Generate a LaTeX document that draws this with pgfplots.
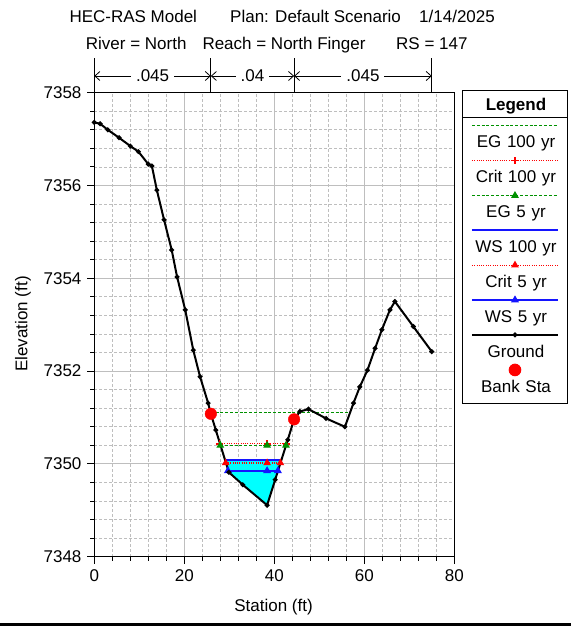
\documentclass[border=0pt]{standalone}
\usepackage{fontspec}
\setmainfont{Liberation Sans}
\usepackage{pgfplots}
\pgfplotsset{compat=1.18}
\usetikzlibrary{arrows.meta}
\definecolor{egreen}{RGB}{0,145,0}
\definecolor{wsblue}{RGB}{20,20,255}
\definecolor{wred}{RGB}{255,0,0}
\definecolor{wcyan}{RGB}{0,255,255}
\definecolor{gridgray}{RGB}{190,190,190}
\newcommand\ls{\rule[-3.5bp]{0pt}{15.5bp}}
\pgfplotsset{
  legline/.style={legend image code/.code={\path (0bp,0bp);\draw[overlay,mark repeat=2,mark phase=2,##1] plot coordinates {(0bp,17.8bp) (43bp,17.8bp) (86bp,17.8bp)};}},
  legmark/.style={legend image code/.code={\path (0bp,0bp);\draw[overlay,##1] plot coordinates {(43bp,17.8bp)};}},
}
\begin{document}
\fontsize{17bp}{20bp}\selectfont
\begin{tikzpicture}[font=\fontsize{17bp}{20bp}\selectfont]
\useasboundingbox (0,0) rectangle (571bp,629bp);
% titles
\node[anchor=base west, inner sep=0pt] at (69.3bp,606.3bp) {HEC-RAS Model};
\node[anchor=base west, inner sep=0pt] at (230bp,606.3bp) {Plan: Default Scenario};
\node[anchor=base west, inner sep=0pt] at (419bp,606.3bp) {1/14/2025};
\node[anchor=base west, inner sep=0pt] at (85.7bp,579bp) {River = North};
\node[anchor=base west, inner sep=0pt] at (202.3bp,579bp) {Reach = North Finger};
\node[anchor=base west, inner sep=0pt] at (396bp,579bp) {RS = 147};
\begin{axis}[
  at={(94.3bp,72.3bp)}, anchor=south west,
  scale only axis, width=360bp, height=464bp,
  xmin=0, xmax=80, ymin=7348, ymax=7358,
  xtick={0,20,40,60,80}, ytick={7348,7350,7352,7354,7356,7358},
  minor x tick num=4, minor y tick num=4,
  grid=both,
  major grid style={gridgray, line width=0.8bp},
  minor grid style={gridgray, line width=0.8bp, dash pattern=on 3bp off 2bp},
  tick align=outside, xtick pos=left, ytick pos=left,
  major tick length=7bp, minor tick length=4bp,
  tick style={black, line width=0.9bp},
  axis line style={black, line width=1.2bp},
  clip=false,
  /pgf/number format/assume math mode=true,
  /pgf/number format/1000 sep={},
  tick label style={font=\fontsize{17bp}{20bp}\selectfont},
  legend style={
    at={(axis description cs:1.0222,1.0058)}, anchor=north west,
    draw=black, line width=1bp, fill=white, outer sep=0pt,
    inner xsep=8.7bp, inner ysep=7.7bp,
    row sep=19.2bp, column sep=0pt,
    font=\fontsize{17bp}{20bp}\selectfont,
    cells={anchor=west},
    nodes={inner sep=0pt, text depth=, text height=, text width=86bp, align=center},
  },
]
\addlegendimage{legend image code/.code={\path (0bp,0bp);\draw[overlay,black,line width=1bp] (-8.7bp,-10bp) -- (94.7bp,-10bp);}}
\addlegendentry{\rule[-6.6bp]{0pt}{18.6bp}\textbf{Legend}}

% water area (WS 100 yr)
\addplot[fill=wcyan, draw=none, forget plot] coordinates {(29.0,7350.08) (29.9,7349.82) (38.4,7349.11) (41.55,7350.08)} -- cycle;

\addplot[color=egreen, draw=egreen, line width=1.1bp, dash pattern=on 3bp off 1.8bp, legline] coordinates {(25.9,7351.10) (57.0,7351.10)};
\addlegendentry{\ls EG 100 yr}
\addplot[color=wred, draw=wred, line width=1.1bp, dash pattern=on 1bp off 1.3bp, mark=+, mark size=3.5bp, mark options={solid, line width=1.2bp}, legline] coordinates {(27.9,7350.43) (38.4,7350.43) (42.8,7350.43)};
\addlegendentry{\ls Crit 100 yr}
\addplot[color=egreen, draw=egreen, line width=1.1bp, dash pattern=on 3bp off 1.8bp, mark=triangle*, mark size=3.4bp, mark options={solid, fill=egreen}, legline] coordinates {(28.0,7350.40) (38.4,7350.40) (42.6,7350.40)};
\addlegendentry{\ls EG 5 yr}
\addplot[color=wsblue, draw=wsblue, line width=1.6bp, legline] coordinates {(29.0,7350.08) (41.55,7350.08)};
\addlegendentry{\ls WS 100 yr}
\addplot[color=wred, draw=wred, line width=1.1bp, dash pattern=on 1bp off 1.3bp, mark=triangle*, mark size=3.4bp, mark options={solid, fill=wred}, legline] coordinates {(29.2,7350.02) (38.4,7350.02) (41.35,7350.02)};
\addlegendentry{\ls Crit 5 yr}
\addplot[color=wsblue, draw=wsblue, line width=1.3bp, mark=triangle*, mark size=3.4bp, mark options={fill=wsblue}, legline] coordinates {(29.7,7349.85) (38.4,7349.85) (40.8,7349.85)};
\addlegendentry{\ls WS 5 yr}
\addplot[color=black, draw=black, line width=2bp, mark=*, mark size=1.3bp, legline] coordinates {
(0,7357.36) (1.3,7357.33) (3.0,7357.20) (5.5,7357.03) (8.0,7356.85) (9.8,7356.73)
(12.0,7356.46) (12.8,7356.42) (13.9,7355.90) (15.5,7355.26) (17.2,7354.61)
(18.4,7354.03) (20.2,7353.32) (22.0,7352.45) (23.5,7351.88) (25.3,7351.31)
(25.9,7351.08) (27.0,7350.73) (29.9,7349.82) (33.0,7349.55) (38.4,7349.11)
(40.2,7349.66) (43.0,7350.52) (44.4,7350.96) (45.7,7351.13) (47.6,7351.18)
(51.5,7350.98) (55.7,7350.80) (57.6,7351.31) (59.0,7351.66) (60.7,7352.02)
(62.4,7352.49) (63.9,7352.89) (65.7,7353.32) (66.8,7353.50) (70.9,7352.96)
(75.0,7352.42)};
\addlegendentry{\ls Ground}
\addplot[only marks, mark=*, mark size=5.8bp, color=wred, draw=wred, fill=wred, legmark] coordinates {(25.9,7351.08) (44.4,7350.96)};
\addlegendentry{\ls Bank Sta}

% Manning's n annotations
\foreach \xx in {0,25.9,44.4,75}{
  \edef\tmp{\noexpand\draw[black, line width=1bp] (axis cs:\xx,7358) -- (axis cs:\xx,7358.74);}\tmp
}
\draw[{Straight Barb[length=5bp,width=9bp]}-{Straight Barb[length=5bp,width=9bp]}, line width=0.8bp] (axis cs:0,7358.36) -- node[fill=white, inner xsep=5bp, inner ysep=1bp] {.045} (axis cs:25.9,7358.36);
\draw[{Straight Barb[length=5bp,width=9bp]}-{Straight Barb[length=5bp,width=9bp]}, line width=0.8bp] (axis cs:25.9,7358.36) -- node[fill=white, inner xsep=5bp, inner ysep=1bp] {.04} (axis cs:44.4,7358.36);
\draw[{Straight Barb[length=5bp,width=9bp]}-{Straight Barb[length=5bp,width=9bp]}, line width=0.8bp] (axis cs:44.4,7358.36) -- node[fill=white, inner xsep=5bp, inner ysep=1bp] {.045} (axis cs:75,7358.36);
\end{axis}
\node[anchor=base, inner sep=0pt] at (273.5bp,17.5bp) {Station (ft)};
\node[anchor=base, inner sep=0pt, rotate=90] at (27.3bp,305bp) {Elevation (ft)};
\draw[black, line width=3bp] (0bp,4bp) -- (571bp,4bp);
\end{tikzpicture}
\end{document}
